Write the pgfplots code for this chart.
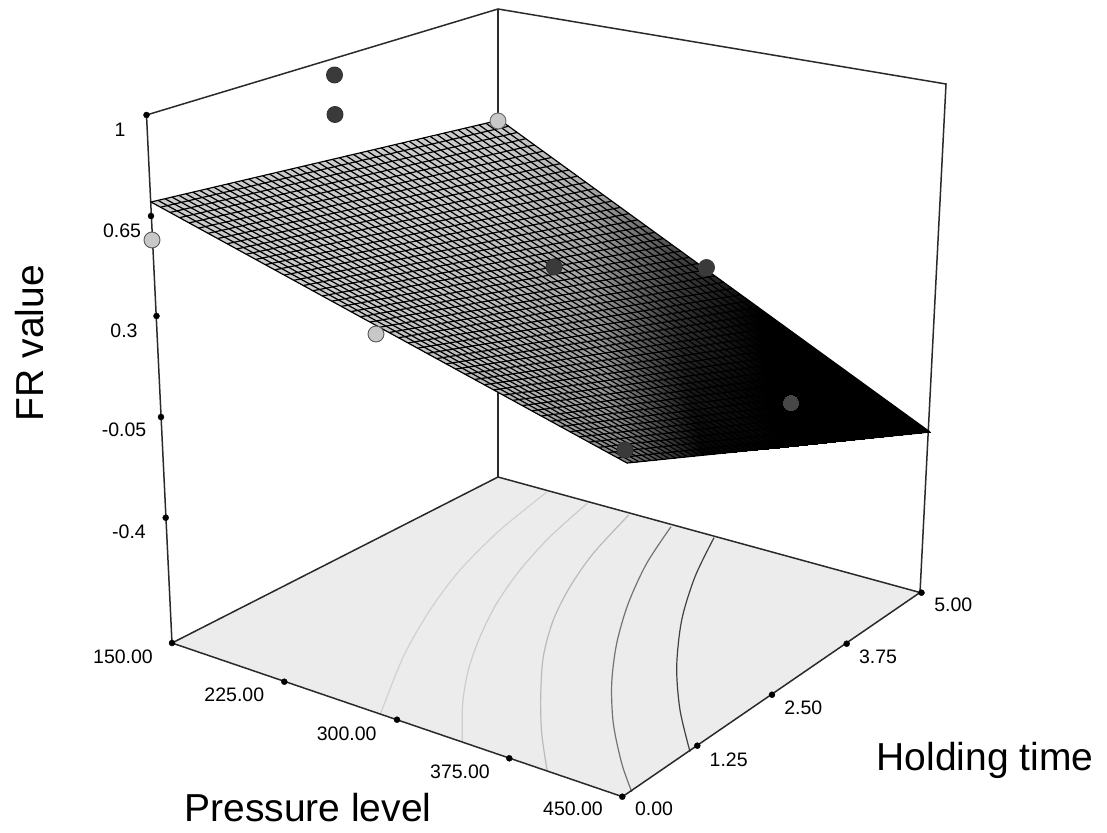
\documentclass[border=0pt]{standalone}
\usepackage{fontspec}
\setmainfont{Liberation Sans}
\usepackage{pgfplots}
\pgfplotsset{compat=1.18}
\definecolor{boxc}{HTML}{2A2A2A}
\definecolor{floorc}{HTML}{ECECEC}
\definecolor{lightpt}{HTML}{C8C8C8}
\definecolor{darkpt}{HTML}{3A3A3A}
\newcommand{\tk}{\fontsize{19.5}{22}\selectfont}
\newcommand{\ttl}{\fontsize{39}{44}\selectfont}
\begin{document}
\begin{tikzpicture}
\useasboundingbox (0,0) rectangle (1107pt,832pt);
\begin{axis}[
  at={(0,0)}, anchor=south west,
  x=1pt, y=1pt, xmin=0, xmax=1107, ymin=0, ymax=832, y dir=reverse,
  hide axis, clip=true,
  colormap={srf}{gray(0cm)=(0); gray(1cm)=(1)},
  point meta min=0, point meta max=1,
]
% floor
\addplot[fill=floorc, draw=none, no markers, forget plot] coordinates {(172,643)(498,477)(920,592.5)(622.5,796.7)} -- cycle;
% contours on floor
\addplot[smooth, no markers, color=black!18, line width=1.2pt] coordinates {(547.3,491.7)(500,530)(460,570)(430,610)(403.3,656.7)(380.7,713.3)};
\addplot[smooth, no markers, color=black!20, line width=1.2pt] coordinates {(587.3,503.3)(550,536.7)(520,570)(496.7,603.3)(480,636.7)(468.3,670)(462.7,703.3)(462.3,741.7)};
\addplot[smooth, no markers, color=black!27, line width=1.2pt] coordinates {(628.7,515)(593.3,553.3)(570,586.7)(553.3,620)(543.3,656.7)(540.7,696.7)(541.7,733.3)(547.3,771.7)};
\addplot[smooth, no markers, color=black!55, line width=1.2pt] coordinates {(671,526.7)(646.7,563.3)(628.3,603.3)(616.7,643.3)(611.7,683.3)(613.3,723.3)(621.7,763.3)(631.7,791.7)};
\addplot[smooth, no markers, color=black!75, line width=1.2pt] coordinates {(714,537.7)(695,576.7)(681.7,620)(676.7,666.7)(680,710)(690,751.7)};
% box
\addplot[color=boxc, line width=1.5pt, no markers] coordinates {(172,643)(146.5,115)(498,9)(946,84)(920,592.5)(622.5,796.7)(172,643)(498,477)(920,592.5)};
\addplot[color=boxc, line width=1.5pt, no markers] coordinates {(498,9)(498,477)};
% points behind the surface
\addplot[only marks, mark=*, mark size=8pt, mark options={fill=lightpt, draw=black!60, line width=0.9pt}] coordinates {(498,121)};
\addplot[only marks, mark=*, mark size=8pt, mark options={fill=darkpt, draw=black!75, line width=0.9pt}] coordinates {(706.5,267.5)};
% surface
\addplot[surf, shader=interp, mesh/rows=5, mesh/cols=6, point meta=explicit] table[x=x, y=y, meta=m] {
x y m
151 202 0.8
246.2 254.2 0.8
341.4 306.4 0.8
436.6 358.6 0.76
531.8 410.8 0.7
627 463 0.5
238.25 181.5 0.8
331.15 236.25 0.8
424.05 291 0.78
516.95 345.75 0.72
609.85 400.5 0.58
702.75 455.25 0.02
325.5 161 0.8
416.1 218.3 0.8
506.7 275.6 0.74
597.3 332.9 0.6
687.9 390.2 0.1
778.5 447.5 0
412.75 140.5 0.8
501.05 200.35 0.78
589.35 260.2 0.64
677.65 320.05 0.2
765.95 379.9 0
854.25 439.75 0
500 120 0.8
586 182.4 0.68
672 244.8 0.3
758 307.2 0
844 369.6 0
930 432 0
};
% mesh: constant holding time
\addplot[color=black, line width=1.2pt, no markers, unbounded coords=jump] coordinates {
(151,202)(627,463)(nan,nan)
(157.98,200.36)(633.06,462.38)(nan,nan)
(164.96,198.72)(639.12,461.76)(nan,nan)
(171.94,197.08)(645.18,461.14)(nan,nan)
(178.92,195.44)(651.24,460.52)(nan,nan)
(185.9,193.8)(657.3,459.9)(nan,nan)
(192.88,192.16)(663.36,459.28)(nan,nan)
(199.86,190.52)(669.42,458.66)(nan,nan)
(206.84,188.88)(675.48,458.04)(nan,nan)
(213.82,187.24)(681.54,457.42)(nan,nan)
(220.8,185.6)(687.6,456.8)(nan,nan)
(227.78,183.96)(693.66,456.18)(nan,nan)
(234.76,182.32)(699.72,455.56)(nan,nan)
(241.74,180.68)(705.78,454.94)(nan,nan)
(248.72,179.04)(711.84,454.32)(nan,nan)
(255.7,177.4)(717.9,453.7)(nan,nan)
(262.68,175.76)(723.96,453.08)(nan,nan)
(269.66,174.12)(730.02,452.46)(nan,nan)
(276.64,172.48)(736.08,451.84)(nan,nan)
(283.62,170.84)(742.14,451.22)(nan,nan)
(290.6,169.2)(748.2,450.6)(nan,nan)
(297.58,167.56)(754.26,449.98)(nan,nan)
(304.56,165.92)(760.32,449.36)(nan,nan)
(311.54,164.28)(766.38,448.74)(nan,nan)
(318.52,162.64)(772.44,448.12)(nan,nan)
(325.5,161)(778.5,447.5)(nan,nan)
(332.48,159.36)(784.56,446.88)(nan,nan)
(339.46,157.72)(790.62,446.26)(nan,nan)
(346.44,156.08)(796.68,445.64)(nan,nan)
(353.42,154.44)(802.74,445.02)(nan,nan)
(360.4,152.8)(808.8,444.4)(nan,nan)
(367.38,151.16)(814.86,443.78)(nan,nan)
(374.36,149.52)(820.92,443.16)(nan,nan)
(381.34,147.88)(826.98,442.54)(nan,nan)
(388.32,146.24)(833.04,441.92)(nan,nan)
(395.3,144.6)(839.1,441.3)(nan,nan)
(402.28,142.96)(845.16,440.68)(nan,nan)
(409.26,141.32)(851.22,440.06)(nan,nan)
(416.24,139.68)(857.28,439.44)(nan,nan)
(423.22,138.04)(863.34,438.82)(nan,nan)
(430.2,136.4)(869.4,438.2)(nan,nan)
(437.18,134.76)(875.46,437.58)(nan,nan)
(444.16,133.12)(881.52,436.96)(nan,nan)
(451.14,131.48)(887.58,436.34)(nan,nan)
(458.12,129.84)(893.64,435.72)(nan,nan)
(465.1,128.2)(899.7,435.1)(nan,nan)
(472.08,126.56)(905.76,434.48)(nan,nan)
(479.06,124.92)(911.82,433.86)(nan,nan)
(486.04,123.28)(917.88,433.24)(nan,nan)
(493.02,121.64)(923.94,432.62)(nan,nan)
(500,120)(930,432)
};
% mesh: constant pressure
\addplot[color=black, line width=1.2pt, no markers, unbounded coords=jump] coordinates {
(151,202)(500,120)(nan,nan)
(160.52,207.22)(508.6,126.24)(nan,nan)
(170.04,212.44)(517.2,132.48)(nan,nan)
(179.56,217.66)(525.8,138.72)(nan,nan)
(189.08,222.88)(534.4,144.96)(nan,nan)
(198.6,228.1)(543,151.2)(nan,nan)
(208.12,233.32)(551.6,157.44)(nan,nan)
(217.64,238.54)(560.2,163.68)(nan,nan)
(227.16,243.76)(568.8,169.92)(nan,nan)
(236.68,248.98)(577.4,176.16)(nan,nan)
(246.2,254.2)(586,182.4)(nan,nan)
(255.72,259.42)(594.6,188.64)(nan,nan)
(265.24,264.64)(603.2,194.88)(nan,nan)
(274.76,269.86)(611.8,201.12)(nan,nan)
(284.28,275.08)(620.4,207.36)(nan,nan)
(293.8,280.3)(629,213.6)(nan,nan)
(303.32,285.52)(637.6,219.84)(nan,nan)
(312.84,290.74)(646.2,226.08)(nan,nan)
(322.36,295.96)(654.8,232.32)(nan,nan)
(331.88,301.18)(663.4,238.56)(nan,nan)
(341.4,306.4)(672,244.8)(nan,nan)
(350.92,311.62)(680.6,251.04)(nan,nan)
(360.44,316.84)(689.2,257.28)(nan,nan)
(369.96,322.06)(697.8,263.52)(nan,nan)
(379.48,327.28)(706.4,269.76)(nan,nan)
(389,332.5)(715,276)(nan,nan)
(398.52,337.72)(723.6,282.24)(nan,nan)
(408.04,342.94)(732.2,288.48)(nan,nan)
(417.56,348.16)(740.8,294.72)(nan,nan)
(427.08,353.38)(749.4,300.96)(nan,nan)
(436.6,358.6)(758,307.2)(nan,nan)
(446.12,363.82)(766.6,313.44)(nan,nan)
(455.64,369.04)(775.2,319.68)(nan,nan)
(465.16,374.26)(783.8,325.92)(nan,nan)
(474.68,379.48)(792.4,332.16)(nan,nan)
(484.2,384.7)(801,338.4)(nan,nan)
(493.72,389.92)(809.6,344.64)(nan,nan)
(503.24,395.14)(818.2,350.88)(nan,nan)
(512.76,400.36)(826.8,357.12)(nan,nan)
(522.28,405.58)(835.4,363.36)(nan,nan)
(531.8,410.8)(844,369.6)(nan,nan)
(541.32,416.02)(852.6,375.84)(nan,nan)
(550.84,421.24)(861.2,382.08)(nan,nan)
(560.36,426.46)(869.8,388.32)(nan,nan)
(569.88,431.68)(878.4,394.56)(nan,nan)
(579.4,436.9)(887,400.8)(nan,nan)
(588.92,442.12)(895.6,407.04)(nan,nan)
(598.44,447.34)(904.2,413.28)(nan,nan)
(607.96,452.56)(912.8,419.52)(nan,nan)
(617.48,457.78)(921.4,425.76)(nan,nan)
(627,463)(930,432)
};
% tick dots
\addplot[only marks, mark=*, mark size=3pt, color=black] coordinates {(146.5,115)(151,216)(156.5,316)(161,417)(165.7,517.7)(172,643)(284.3,681.7)(397,719.7)(509.3,758.3)(622.3,796.7)(697.3,745.7)(772,694.7)(846.7,643.7)(921.5,592.7)};
% design points
\addplot[only marks, mark=*, mark size=8pt, mark options={fill=lightpt, draw=black!65, line width=0.9pt}] coordinates {(152,240)(376,334)};
\addplot[only marks, mark=*, mark size=8pt, mark options={fill=darkpt, draw=black!80, line width=0.9pt}] coordinates {(334.5,75)(335,114.5)(554,267)(625,450)};
\addplot[only marks, mark=*, mark size=7.5pt, mark options={fill=black!72, draw=black!72, line width=0pt}] coordinates {(791,403)};
% labels
\node[font=\tk,inner sep=0] at (axis cs:120,130) {1};
\node[font=\tk,inner sep=0] at (axis cs:122,231) {0.65};
\node[font=\tk,inner sep=0] at (axis cs:124,331) {0.3};
\node[font=\tk,inner sep=0] at (axis cs:124,430) {-0.05};
\node[font=\tk,inner sep=0] at (axis cs:129,532) {-0.4};
\node[font=\tk,inner sep=0] at (axis cs:123,657) {150.00};
\node[font=\tk,inner sep=0] at (axis cs:234.3,695) {225.00};
\node[font=\tk,inner sep=0] at (axis cs:346.7,733.3) {300.00};
\node[font=\tk,inner sep=0] at (axis cs:460,771.7) {375.00};
\node[font=\tk,inner sep=0] at (axis cs:573,809) {450.00};
\node[font=\tk,inner sep=0] at (axis cs:654,809) {0.00};
\node[font=\tk,inner sep=0] at (axis cs:728.7,759.3) {1.25};
\node[font=\tk,inner sep=0] at (axis cs:803.3,707.7) {2.50};
\node[font=\tk,inner sep=0] at (axis cs:878,656.7) {3.75};
\node[font=\tk,inner sep=0] at (axis cs:953.3,605) {5.00};
\node[font=\ttl,inner sep=0,rotate=90] at (axis cs:30,343) {FR value};
\node[font=\ttl,inner sep=0] at (axis cs:985,760) {Holding time};
\node[font=\ttl,inner sep=0] at (axis cs:308,808) {Pressure level};
\end{axis}
\end{tikzpicture}
\end{document}
